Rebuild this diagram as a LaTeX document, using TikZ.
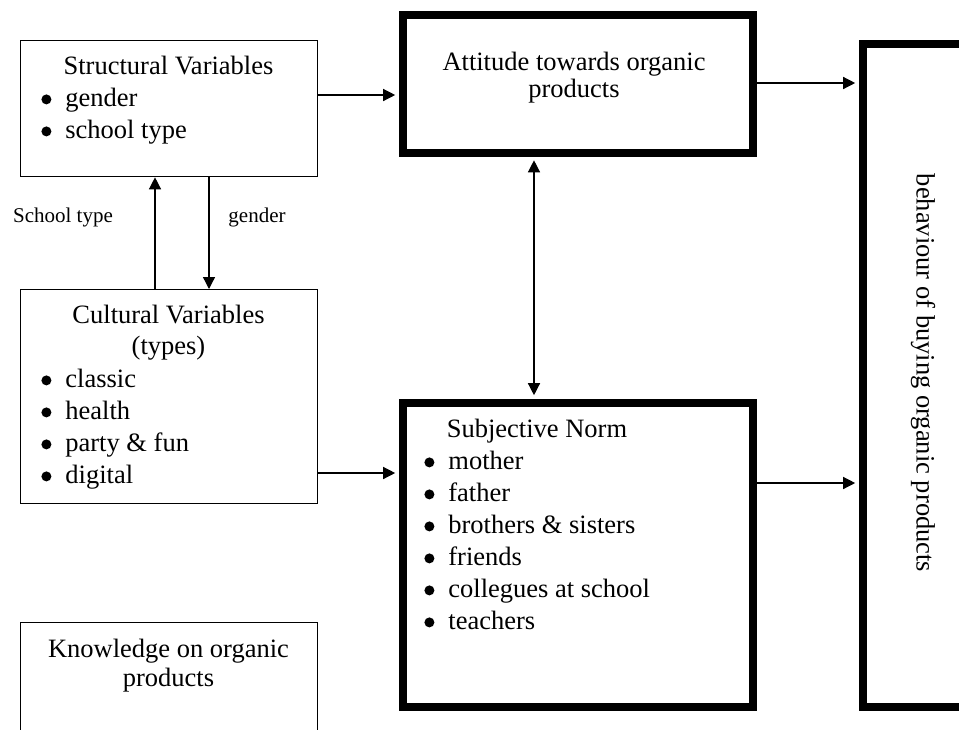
\documentclass[tikz,border=0pt]{standalone}
\usepackage{fontspec}
\setmainfont{Liberation Serif}
\usetikzlibrary{arrows.meta}
\usetikzlibrary{positioning}
\tikzstyle{box} = [draw, line width=0.65pt, rectangle, anchor=north west, inner sep=0pt]
\tikzstyle{heavybox} = [draw, line width=3.75pt, rectangle, anchor=north west, inner sep=0pt]
\tikzstyle{title} = [align=center, inner sep=0pt, anchor=base]
\tikzstyle{items} = [align=left, inner sep=0pt, anchor=base west]
\tikzstyle{arrow} = [-{Triangle[length=6pt,width=6pt]}, line width=0.65pt]
\tikzstyle{twoway} = [{Triangle[length=6pt,width=6pt]}-{Triangle[length=6pt,width=6pt]}, line width=0.65pt]
\tikzstyle{linklabel} = [inner sep=0pt, font=\fontsize{10.5}{12}\selectfont]
\newcommand{\itm}[1]{\makebox[12pt][l]{\tikz[baseline=-3.3pt]\fill (3pt,0pt) circle (2.5pt);}#1}

\begin{document}
\begin{tikzpicture}[x=0.5pt, y=-0.5pt, font=\fontsize{13.25}{16}\selectfont]
    \useasboundingbox (0,0) rectangle (959,729);
    \clip (0,0) rectangle (959,729);

    % boxes
    \node [box, minimum width=148.5pt, minimum height=68pt] (structural) at (20,40) {};
    \node [box, minimum width=148.5pt, minimum height=107pt] (cultural) at (20,289) {};
    \node [box, minimum width=148.5pt, minimum height=80pt] (knowledge) at (20,622) {};
    \node [heavybox, minimum width=175pt, minimum height=69pt] (attitude) at (399,11) {};
    \node [heavybox, minimum width=175pt, minimum height=152pt] (subjective) at (399,399) {};
    \node [heavybox, minimum width=80pt, minimum height=331.5pt] (behaviour) at (859,40) {};

    % texts (multi-line nodes sit on their last baseline)
    \node [title] (structitle) at (168.5,74) {Structural Variables};
    \node [items] (structitems) at (41,138) {\itm{gender}\\ \itm{school type}};
    \node [title, font=\fontsize{13.25}{15.5}\selectfont] (cultitle) at (168.5,354) {Cultural Variables\\ (types)};
    \node [items] (cultitems) at (41,483) {\itm{classic}\\ \itm{health}\\ \itm{party \& fun}\\ \itm{digital}};
    \node [title, font=\fontsize{13.25}{14.5}\selectfont] (knowtitle) at (168.5,686) {Knowledge on organic\\ products};
    \node [title, font=\fontsize{13.25}{13.5}\selectfont] (atttitle) at (574,97) {Attitude towards organic\\ products};
    \node [title] (subjtitle) at (537,437) {Subjective Norm};
    \node [items] (subjitems) at (424,629) {\itm{mother}\\ \itm{father}\\ \itm{brothers \& sisters}\\ \itm{friends}\\ \itm{collegues at school}\\ \itm{teachers}};
    \node [rotate=-90, inner sep=0pt] (behtitle) at (923,373) {behaviour of buying organic products};

    % helper levels
    \coordinate (lv1) at (0,95);
    \coordinate (lv2) at (0,83);
    \coordinate (lv3) at (0,473);
    \coordinate (lv4) at (0,483);
    \coordinate (up) at (155,0);
    \coordinate (down) at (209,0);
    \coordinate (both) at (534,0);

    % connectors
    \draw [arrow, shorten >=1.9pt] (structural.east |- lv1) -- (attitude.west |- lv1);
    \draw [arrow, shorten >=1.9pt] (attitude.east |- lv2) -- (behaviour.west |- lv2);
    \draw [arrow, shorten >=1.9pt] (cultural.east |- lv3) -- (subjective.west |- lv3);
    \draw [arrow, shorten >=1.9pt] (subjective.east |- lv4) -- (behaviour.west |- lv4);
    \draw [arrow] (cultural.north -| up) -- (structural.south -| up);
    \draw [arrow] (structural.south -| down) -- (cultural.north -| down);
    \draw [twoway, shorten <=1.9pt, shorten >=1.9pt] (attitude.south -| both) -- (subjective.north -| both);

    \node [linklabel] (lblschool) at (63,217) {School type};
    \node [linklabel] (lblgender) at (257,217) {gender};
\end{tikzpicture}
\end{document}
